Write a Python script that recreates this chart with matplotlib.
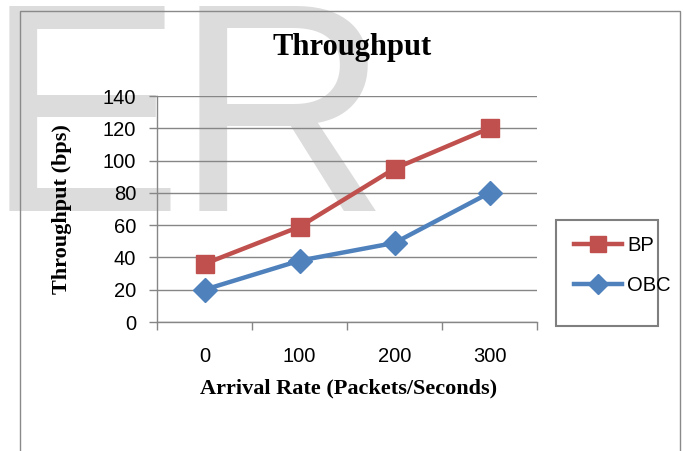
import matplotlib
matplotlib.use("Agg")
import matplotlib.pyplot as plt
from matplotlib.patches import Rectangle
from matplotlib.lines import Line2D

categories = ["0", "100", "200", "300"]
bp_values = [36, 59, 95, 120]
obc_values = [20, 38, 49, 80]
y_ticks = [0, 20, 40, 60, 80, 100, 120, 140]

W, H = 684, 451
fig = plt.figure(figsize=(W / 100, H / 100), dpi=100)
fig.patch.set_facecolor("white")

def fx(px):
    return px / W

def fy(py):
    return 1 - py / H

sans = ["Liberation Sans", "DejaVu Sans"]
serif = ["Liberation Serif", "DejaVu Serif"]

# watermark
wm_kw = dict(fontsize=214, color="#dcdcdc", family=sans,
             va="baseline", ha="left", zorder=0)
fig.text(fx(-15), fy(211), "E", **wm_kw)
fig.text(fx(175), fy(211), "R", **wm_kw)

# outer chart border
fig.patches.append(Rectangle((fx(20), fy(470)), fx(680) - fx(20), fy(11) - fy(470),
                             transform=fig.transFigure, fill=False,
                             edgecolor="#8a8a8a", lw=1.0, zorder=1))

ax = fig.add_axes([fx(157), fy(322), fx(537) - fx(157), fy(96) - fy(322)])
ax.patch.set_alpha(0)
ax.set_zorder(2)

x = list(range(len(categories)))
ax.plot(x, bp_values, color="#C0504D", lw=3.2, marker="s", markersize=13,
        markeredgecolor="#C0504D", label="BP", zorder=4)
ax.plot(x, obc_values, color="#4F81BD", lw=3.2, marker="D", markersize=12,
        markeredgecolor="#4F81BD", label="OBC", zorder=4)

ax.set_xlim(-0.5, len(categories) - 0.5)
ax.set_ylim(0, 140)
ax.set_yticks(y_ticks)
ax.set_yticklabels([str(v) for v in y_ticks], family=sans, fontsize=14.5)
ax.set_xticks(x)
ax.set_xticklabels(categories, family=sans, fontsize=14.5)
ax.set_xticks([i - 0.5 for i in range(len(categories) + 1)], minor=True)
ax.tick_params(axis="x", which="major", length=0, pad=18)
ax.tick_params(axis="x", which="minor", length=6, color="#868686", width=1)
ax.tick_params(axis="y", which="major", length=6, color="#868686", width=1, pad=9)
ax.grid(axis="y", color="#868686", lw=1, zorder=1)
ax.set_axisbelow(True)
for s in ["top", "right"]:
    ax.spines[s].set_visible(False)
for s in ["left", "bottom"]:
    ax.spines[s].set_color("#868686")
    ax.spines[s].set_linewidth(1)

fig.text(fx(352), fy(48), "Throughput", ha="center", va="center",
         family=serif, fontweight="bold", fontsize=22, zorder=3)
fig.text(fx(349), fy(388), "Arrival Rate (Packets/Seconds)", ha="center", va="center",
         family=serif, fontweight="bold", fontsize=16, zorder=3)
fig.text(fx(62), fy(209), "Throughput (bps)", ha="center", va="center", rotation=90,
         family=serif, fontweight="bold", fontsize=16, zorder=3)

# legend
fig.patches.append(Rectangle((fx(556), fy(326)), fx(658) - fx(556), fy(220) - fy(326),
                             transform=fig.transFigure, fill=True, facecolor="white",
                             edgecolor="#7f7f7f", lw=1.5, zorder=1))
handles = [Line2D([], [], color="#C0504D", lw=3.2, marker="s", markersize=12),
           Line2D([], [], color="#4F81BD", lw=3.2, marker="D", markersize=10)]
fig.legend(handles, ["BP", "OBC"], loc="upper left",
           bbox_to_anchor=(fx(566), fy(228)), frameon=False,
           prop={"family": sans, "size": 14.5}, handlelength=2.4,
           handletextpad=0.25, labelspacing=1.05, borderaxespad=0)

fig.savefig("out.png", dpi=100)
